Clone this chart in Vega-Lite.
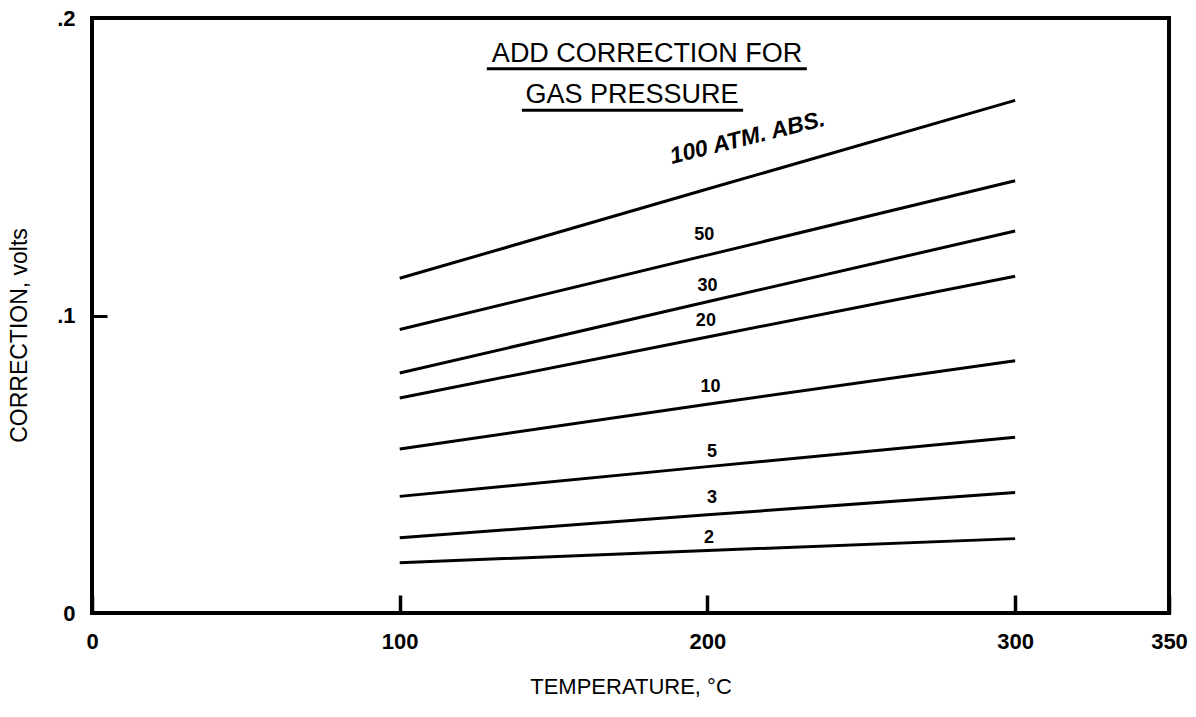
{
  "$schema": "https://vega.github.io/schema/vega-lite/v6.json",
  "width": 1077,
  "height": 595,
  "autosize": {"type": "none"},
  "padding": {"left": 92, "top": 18, "right": 27, "bottom": 104},
  "background": "white",
  "config": {
    "view": {"stroke": "black", "strokeWidth": 4},
    "font": "Liberation Sans"
  },
  "datasets": {
    "curves": [
      {"pressure": "100", "temp": 100, "volts": 0.1125},
      {"pressure": "100", "temp": 200, "volts": 0.1425},
      {"pressure": "100", "temp": 300, "volts": 0.1723},
      {"pressure": "50", "temp": 100, "volts": 0.0953},
      {"pressure": "50", "temp": 200, "volts": 0.1203},
      {"pressure": "50", "temp": 300, "volts": 0.1453},
      {"pressure": "30", "temp": 100, "volts": 0.0807},
      {"pressure": "30", "temp": 200, "volts": 0.1046},
      {"pressure": "30", "temp": 300, "volts": 0.1284},
      {"pressure": "20", "temp": 100, "volts": 0.0723},
      {"pressure": "20", "temp": 200, "volts": 0.0928},
      {"pressure": "20", "temp": 300, "volts": 0.1132},
      {"pressure": "10", "temp": 100, "volts": 0.0551},
      {"pressure": "10", "temp": 200, "volts": 0.0702},
      {"pressure": "10", "temp": 300, "volts": 0.0848},
      {"pressure": "5", "temp": 100, "volts": 0.0392},
      {"pressure": "5", "temp": 200, "volts": 0.0492},
      {"pressure": "5", "temp": 300, "volts": 0.0591},
      {"pressure": "3", "temp": 100, "volts": 0.0253},
      {"pressure": "3", "temp": 200, "volts": 0.0330},
      {"pressure": "3", "temp": 300, "volts": 0.0405},
      {"pressure": "2", "temp": 100, "volts": 0.0169},
      {"pressure": "2", "temp": 200, "volts": 0.0210},
      {"pressure": "2", "temp": 300, "volts": 0.0250}
    ],
    "curveLabels": [
      {"label": "50", "temp": 199, "volts": 0.127},
      {"label": "30", "temp": 200, "volts": 0.110},
      {"label": "20", "temp": 199.5, "volts": 0.098},
      {"label": "10", "temp": 201, "volts": 0.076},
      {"label": "5", "temp": 201.5, "volts": 0.054},
      {"label": "3", "temp": 201.5, "volts": 0.0385},
      {"label": "2", "temp": 200.5, "volts": 0.0253}
    ],
    "mainLabel": [
      {"label": "100 ATM. ABS.", "temp": 213, "volts": 0.1597}
    ],
    "heading": [
      {"label": "ADD CORRECTION FOR", "temp": 180.4, "volts": 0.1879},
      {"label": "GAS PRESSURE", "temp": 175.5, "volts": 0.1741}
    ],
    "underlines": [
      {"x1": 128.3, "x2": 232.3, "volts": 0.1829},
      {"x1": 139.7, "x2": 211.6, "volts": 0.169}
    ]
  },
  "layer": [
    {
      "data": {"name": "curves"},
      "mark": {"type": "line", "color": "black", "strokeWidth": 3},
      "encoding": {
        "x": {
          "field": "temp",
          "type": "quantitative",
          "scale": {"domain": [0, 350], "nice": false, "zero": false},
          "axis": {
            "values": [0, 100, 200, 300, 350],
            "domain": false,
            "grid": false,
            "tickSize": -18,
            "tickWidth": 3.5,
            "tickColor": "black",
            "labelFont": "Liberation Sans",
            "labelFontSize": 22,
            "labelFontWeight": "bold",
            "labelColor": "black",
            "labelPadding": 36,
            "labelFlush": false,
            "labelOverlap": false,
            "labelBound": false,
            "title": "TEMPERATURE, °C",
            "titleFont": "Liberation Sans",
            "titleFontSize": 22,
            "titleFontWeight": "normal",
            "titleColor": "black",
            "titlePadding": 24
          }
        },
        "y": {
          "field": "volts",
          "type": "quantitative",
          "scale": {"domain": [0, 0.2], "nice": false, "zero": false},
          "axis": {
            "values": [0, 0.1, 0.2],
            "labelExpr": "datum.value == 0 ? '0' : (datum.value < 0.15 ? '.1' : '.2')",
            "domain": false,
            "grid": false,
            "tickSize": -15,
            "tickWidth": 3,
            "tickColor": "black",
            "labelFont": "Liberation Sans",
            "labelFontSize": 22,
            "labelFontWeight": "bold",
            "labelColor": "black",
            "labelPadding": 32,
            "labelFlush": false,
            "labelOverlap": false,
            "labelBound": false,
            "title": "CORRECTION, volts",
            "titleFont": "Liberation Sans",
            "titleFontSize": 23,
            "titleFontWeight": "normal",
            "titleColor": "black",
            "titlePadding": 25,
            "titleY": 317
          }
        },
        "detail": {"field": "pressure"}
      }
    },
    {
      "data": {"name": "curveLabels"},
      "mark": {"type": "text", "font": "Liberation Sans", "fontSize": 18, "fontWeight": "bold", "color": "black"},
      "encoding": {
        "x": {"field": "temp", "type": "quantitative"},
        "y": {"field": "volts", "type": "quantitative"},
        "text": {"field": "label"}
      }
    },
    {
      "data": {"name": "mainLabel"},
      "mark": {"type": "text", "font": "Liberation Sans", "fontSize": 23, "fontWeight": "bold", "fontStyle": "italic", "color": "black", "angle": -14},
      "encoding": {
        "x": {"field": "temp", "type": "quantitative"},
        "y": {"field": "volts", "type": "quantitative"},
        "text": {"field": "label"}
      }
    },
    {
      "data": {"name": "heading"},
      "mark": {"type": "text", "font": "Liberation Sans", "fontSize": 27, "color": "black"},
      "encoding": {
        "x": {"field": "temp", "type": "quantitative"},
        "y": {"field": "volts", "type": "quantitative"},
        "text": {"field": "label"}
      }
    },
    {
      "data": {"name": "underlines"},
      "mark": {"type": "rule", "color": "black", "strokeWidth": 3},
      "encoding": {
        "x": {"field": "x1", "type": "quantitative"},
        "x2": {"field": "x2"},
        "y": {"field": "volts", "type": "quantitative"}
      }
    }
  ]
}
